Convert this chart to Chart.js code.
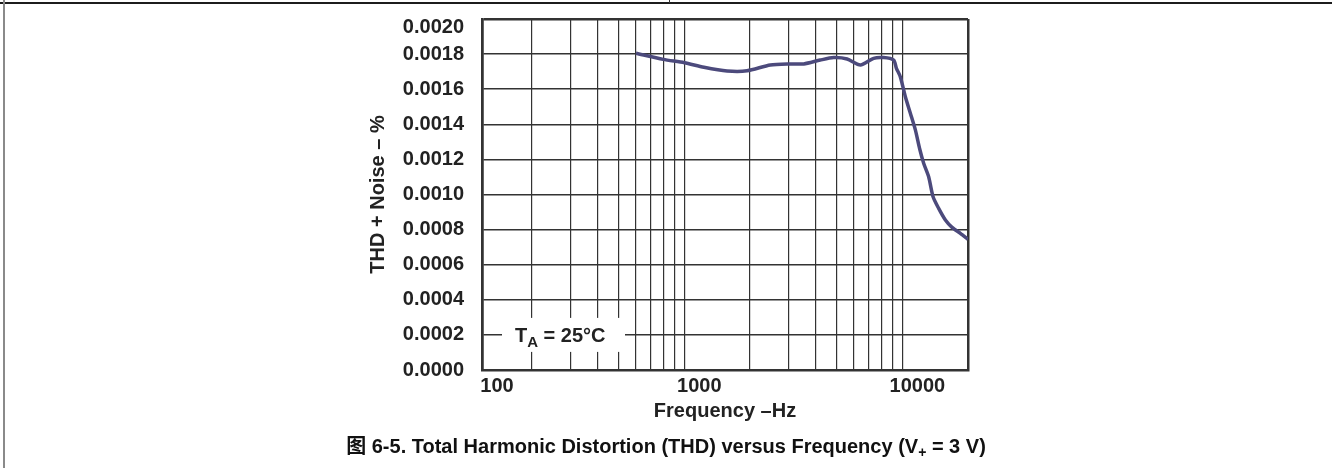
<!DOCTYPE html>
<html>
<head>
<meta charset="utf-8">
<script src="https://cdn.jsdelivr.net/npm/chart.js@4"></script>
<style>
    body { margin: 0; background: #fff; }
    #wrap { position: absolute; left: 0; top: 0; width: 1332px; height: 468px; }
    .rule { position: absolute; }
    #caption {
        position: absolute; left: 0; top: 430px; width: 1332px;
        text-align: center; line-height: 24px;
        font: bold 20px 'Liberation Sans', Arial, 'Noto Sans CJK SC', sans-serif;
        color: #111;
    }
    #caption sub { font-size: 14px; vertical-align: -4px; line-height: 0; }
</style>
</head>
<body>
<div class="rule" style="left:0; top:2px; width:1332px; height:2px; background:#1c1c1c;"></div>
<div class="rule" style="left:3px; top:0; width:2px; height:468px; background:#8a8a8a;"></div>
<div class="rule" style="left:669px; top:0; width:1px; height:3px; background:#333;"></div>
<div id="wrap"><canvas id="chart"></canvas></div>
<div id="caption">图 6-5. Total Harmonic Distortion (THD) versus Frequency (V<sub>+</sub> = 3 V)</div>
<script>
// Frequency (Hz)
const freqHz = [
    600, 800, 1000, 1230, 1570, 1940, 2480, 3060, 3530, 4200,
    4840, 5580, 6420, 7380, 8200, 9120, 9390, 9790, 10320, 10880,
    11470, 12010, 12520, 13200, 13830, 14670, 15750, 16900, 18450, 20000
];

// THD + Noise (%)
const thdPercent = [
    0.001805, 0.00177, 0.001751, 0.001725, 0.001704, 0.001705, 0.001738, 0.001744, 0.001744, 0.001766,
    0.00178, 0.001772, 0.001738, 0.001776, 0.00178, 0.001766, 0.001719, 0.00167, 0.001557, 0.001463,
    0.001368, 0.001259, 0.001178, 0.001101, 0.000987, 0.000921, 0.000855, 0.000813, 0.000779, 0.000745
];

// Axis range, grid lines and labelled ticks
const xMin = 118;
const xMax = 20000;
const xGridHz = [
    118, 200, 300, 400, 500, 600, 700, 800, 900,
    1000, 2000, 3000, 4000, 5000, 6000, 7000, 8000, 9000,
    10000, 20000
];
const xTickLabels = { 118: '100', 1000: '1000', 10000: '10000' };
const yMin = 0;
const yMax = 0.002;
const yStep = 0.0002;

const fontFamily = "'Liberation Sans', Arial, Helvetica, sans-serif";
const gridColor = '#333333';
const lineColor = '#4c4a7c';
const textColor = '#222';

const isTopTick = (v) => v >= yMax - 1e-9;

// Boxed T_A note, plus the top y label which sits a bit below its grid line
const noteLabel = {
    id: 'noteLabel',
    afterDraw(chart) {
        const ctx = chart.ctx;
        const area = chart.chartArea;
        const yScale = chart.scales.y;
        const yc = yScale.getPixelForValue(0.0002);
        ctx.save();
        ctx.fillStyle = '#fff';
        ctx.fillRect(area.left + 20, yc - 17, 123, 34);
        ctx.fillStyle = textColor;
        ctx.textBaseline = 'alphabetic';
        ctx.font = 'bold 20px ' + fontFamily;
        let x = area.left + 33;
        const base = yc + 7;
        ctx.fillText('T', x, base);
        x += ctx.measureText('T').width;
        ctx.font = 'bold 15px ' + fontFamily;
        ctx.fillText('A', x, base + 5);
        x += ctx.measureText('A').width;
        ctx.font = 'bold 20px ' + fontFamily;
        ctx.fillText(' = 25°C', x, base);

        ctx.textAlign = 'right';
        ctx.textBaseline = 'middle';
        ctx.fillText(yMax.toFixed(4), area.left - 18, yScale.getPixelForValue(yMax) + 8);
        ctx.restore();
    }
};

const data = {
    datasets: [{
        label: 'THD + Noise',
        data: freqHz.map((f, i) => ({ x: f, y: thdPercent[i] })),
        borderColor: lineColor,
        borderWidth: 3.5,
        pointRadius: 0,
        tension: 0.25,
        fill: false
    }]
};

const config = {
    type: 'line',
    data: data,
    options: {
        responsive: true,
        maintainAspectRatio: false,
        animation: false,
        layout: {
            padding: { left: 360, right: 364, top: 19, bottom: 44 }
        },
        plugins: {
            legend: { display: false },
            tooltip: { enabled: false }
        },
        scales: {
            x: {
                type: 'logarithmic',
                min: xMin,
                max: xMax,
                afterBuildTicks: (scale) => {
                    scale.ticks = xGridHz.map((v) => ({ value: v }));
                },
                afterFit: (scale) => { scale.height = 54; },
                grid: {
                    color: gridColor,
                    lineWidth: (c) => (c.index === 0 || c.index === xGridHz.length - 1) ? 2.5 : 1.2,
                    drawTicks: false
                },
                border: { color: gridColor, width: 2.5 },
                ticks: {
                    autoSkip: false,
                    maxRotation: 0,
                    padding: 4,
                    labelOffset: 15,
                    color: textColor,
                    font: { family: fontFamily, size: 20, weight: 'bold' },
                    callback: (value) => xTickLabels[value] || ''
                },
                title: {
                    display: true,
                    text: 'Frequency \u2013Hz',
                    color: textColor,
                    padding: { top: 0, bottom: 1 },
                    font: { family: fontFamily, size: 20, weight: 'bold' }
                }
            },
            y: {
                min: yMin,
                max: yMax,
                afterFit: (scale) => {
                    scale.width = 122;
                    scale.paddingTop = 0;
                    scale.paddingBottom = 0;
                },
                grid: {
                    color: gridColor,
                    lineWidth: (c) => (c.tick && isTopTick(c.tick.value)) ? 2.5 : 1.5,
                    drawTicks: false
                },
                border: { color: gridColor, width: 2.5 },
                ticks: {
                    stepSize: yStep,
                    autoSkip: false,
                    padding: 18,
                    // top label is drawn by the noteLabel plugin
                    color: (c) => (c.tick && isTopTick(c.tick.value)) ? 'rgba(0,0,0,0)' : textColor,
                    font: { family: fontFamily, size: 20, weight: 'bold' },
                    callback: (value) => value.toFixed(4)
                },
                title: {
                    display: true,
                    text: 'THD + Noise \u2013 %',
                    color: textColor,
                    padding: { top: 6, bottom: 0 },
                    font: { family: fontFamily, size: 20, weight: 'bold' }
                }
            }
        }
    },
    plugins: [noteLabel]
};

const thdChart = new Chart(
    document.getElementById('chart'),
    config
);
</script>
</body>
</html>
